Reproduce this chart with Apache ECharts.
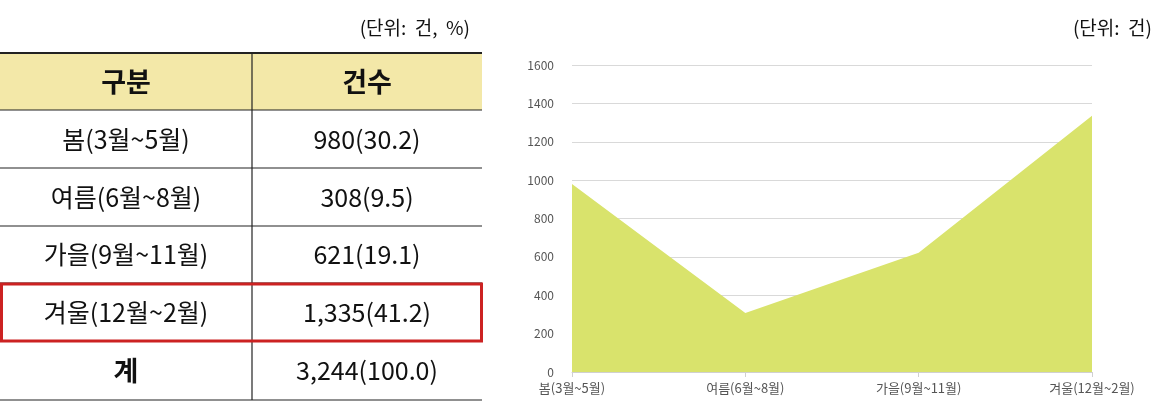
<!DOCTYPE html>
<html><head><meta charset="utf-8">
<script src="https://cdn.jsdelivr.net/npm/echarts@6/dist/echarts.min.js"></script>
<style>html,body{margin:0;padding:0;background:#fff}#c{width:1157px;height:412px}</style>
</head><body><div id="c"></div>
<script>
const categories = ['봄(3월~5월)', '여름(6월~8월)', '가을(9월~11월)', '겨울(12월~2월)'];
const counts = [980, 308, 621, 1335];
const tableHeader = ['구분', '건수'];
const tableCol1 = ['봄(3월~5월)', '여름(6월~8월)', '가을(9월~11월)', '겨울(12월~2월)', '계'];
const tableCol2 = ['980(30.2)', '308(9.5)', '621(19.1)', '1,335(41.2)', '3,244(100.0)'];
const yTicks = [0, 200, 400, 600, 800, 1000, 1200, 1400, 1600];

const font = '"Noto Sans CJK KR", "Noto Sans", sans-serif';
const chart = echarts.init(document.getElementById('c'));
const g = [];
const rowY = [53, 110, 168, 226, 283, 341, 400];
const L = 0, R = 482, MID = 252;
g.push({type:'rect', shape:{x:L,y:rowY[0],width:R-L,height:rowY[1]-rowY[0]}, style:{fill:'#f3e8a8'}});
rowY.forEach((y,i)=>g.push({type:'line', shape:{x1:L,y1:y,x2:R,y2:y}, style:{stroke:'#222',lineWidth:i===0?2:1.2}}));
g.push({type:'line', shape:{x1:MID,y1:rowY[0],x2:MID,y2:rowY[6]}, style:{stroke:'#222',lineWidth:1.2}});
const cell = (t,x,y,bold)=>g.push({type:'text', x:x, y:y, style:{text:t, font:(bold?'bold 27px ':'25px ')+font, fill:'#111', align:'center', verticalAlign:'middle'}});
cell(tableHeader[0],(L+MID)/2,(rowY[0]+rowY[1])/2,true);
cell(tableHeader[1],(MID+R)/2,(rowY[0]+rowY[1])/2,true);
tableCol1.forEach((t,i)=>{
  const cy=(rowY[i+1]+rowY[i+2])/2;
  cell(t,(L+MID)/2,cy,i===4);
  cell(tableCol2[i],(MID+R)/2,cy,false);
});
g.push({type:'rect', shape:{x:1.5,y:rowY[4]+1,width:R-2,height:rowY[5]-rowY[4]-1}, style:{fill:'none',stroke:'#cc2222',lineWidth:3}});
g.push({type:'text', x:470, y:28, style:{text:'(단위:  건,  %)', font:'19px '+font, fill:'#111', align:'right', verticalAlign:'middle'}});
g.push({type:'text', x:1152, y:28, style:{text:'(단위:  건)', font:'19px '+font, fill:'#111', align:'right', verticalAlign:'middle'}});

chart.setOption({
  animation:false,
  graphic:g,
  grid:{left:572, right:65, top:65, bottom:40},
  xAxis:{type:'category', data:categories, boundaryGap:false,
    axisLine:{lineStyle:{color:'#d0d0d0'}}, axisTick:{show:true, lineStyle:{color:'#d0d0d0'}},
    axisLabel:{color:'#555', fontSize:13, fontFamily:font, margin:10}},
  yAxis:{type:'value', min:0, max:1600, interval:200,
    axisLine:{show:false}, axisTick:{show:false},
    splitLine:{lineStyle:{color:'#d9d9d9'}},
    axisLabel:{color:'#555', fontSize:12, fontFamily:font, margin:18, formatter:v=>String(v)}},
  series:[
    {type:'line', z:1, data:counts, symbol:'none', lineStyle:{width:0}, areaStyle:{color:'#d9e36c', opacity:1}},
    {type:'scatter', z:10, data:counts.map((v,i)=>({value:v/2, raw:v})), symbolSize:1, itemStyle:{opacity:0},
     labelLayout:{hideOverlap:false},
     label:{show:true, position:'inside', color:'#333', fontWeight:'bold', fontSize:13, fontFamily:font,
       formatter:p=>p.data.raw.toLocaleString('en-US')}}
  ]
});
</script></body></html>
